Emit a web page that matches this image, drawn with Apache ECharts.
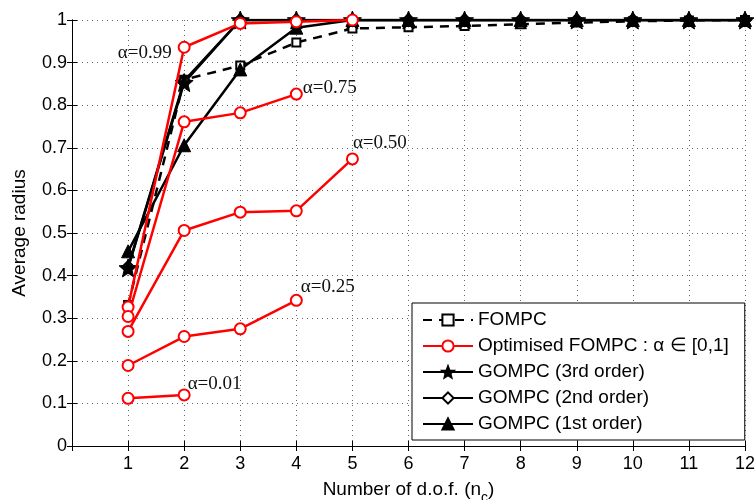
<!DOCTYPE html>
<html lang="en">
<head>
    <meta charset="UTF-8">
    <title>Average radius</title>
    <style>
        html, body { margin: 0; padding: 0; background: #fff; }
        #app { width: 756px; height: 500px; }
    </style>
</head>
<body>
    <div id="app"></div>
</body>
<script src="https://cdn.jsdelivr.net/npm/echarts@6/dist/echarts.min.js"></script>
<script>
    // number of d.o.f.
    var dof = [1, 2, 3, 4, 5, 6, 7, 8, 9, 10, 11, 12];
    var fompc = [0.331, 0.86, 0.893, 0.947, 0.98, 0.983, 0.986, 0.99, 0.994, 0.997, 0.999, 1];
    var gompc3 = [0.418, 0.853, 1, 1, 1, 1, 1, 1, 1, 1, 1, 1];
    var gompc2 = [0.42, 0.857, 1, 1, 1, 1, 1, 1, 1, 1, 1, 1];
    var gompc1 = [0.457, 0.706, 0.884, 0.982, 1, 1, 1, 1, 1, 1, 1, 1];
    // optimised FOMPC, one curve per alpha
    var alphas = ['α=0.99', 'α=0.75', 'α=0.50', 'α=0.25', 'α=0.01'];
    var a99 = [0.326, 0.936, 0.992, 0.996, 1];
    var a75 = [0.304, 0.761, 0.782, 0.826];
    var a50 = [0.269, 0.506, 0.549, 0.552, 0.674];
    var a25 = [0.189, 0.257, 0.275, 0.342];
    var a01 = [0.112, 0.12];
    var yTicks = [0, 0.1, 0.2, 0.3, 0.4, 0.5, 0.6, 0.7, 0.8, 0.9, 1];

    var chart = echarts.init(document.getElementById('app'));
    var star = 'path://M0,-10L2.6,-3.4L9.5,-3.1L4.2,1.3L5.9,8.1L0,4.3L-5.9,8.1L-4.2,1.3L-9.5,-3.1L-2.6,-3.4Z';
    var redName = 'Optimised FOMPC : α ∈ [0,1]';

    function pairs(vals) {
        return vals.map(function (v, i) { return [dof[i], v]; });
    }

    // label placement for each alpha curve: which point, side, offset
    var labelCfg = [
        { idx: 1, position: 'left', distance: 6, offset: [0, 6] },
        { idx: 3, position: 'right', distance: 0, offset: [0, -6] },
        { idx: 4, position: 'right', distance: -6, offset: [0, -16] },
        { idx: 3, position: 'right', distance: -2, offset: [0, -13] },
        { idx: 1, position: 'right', distance: -3, offset: [0, -11] }
    ];

    function redSeries(vals, k) {
        var d = pairs(vals).map(function (p, i) {
            var item = { value: p };
            if (i === labelCfg[k].idx) {
                item.label = {
                    show: true,
                    formatter: alphas[k],
                    position: labelCfg[k].position,
                    distance: labelCfg[k].distance,
                    offset: labelCfg[k].offset,
                    fontFamily: 'Liberation Serif',
                    fontSize: 19,
                    color: '#111'
                };
            }
            return item;
        });
        return {
            name: redName,
            type: 'line',
            data: d,
            z: 5,
            symbol: 'emptyCircle',
            symbolSize: 11,
            itemStyle: { color: '#ff0000', borderWidth: 2.5 },
            lineStyle: { color: '#ff0000', width: 2.5 },
            emphasis: { disabled: true },
            animation: false
        };
    }

    function blackSeries(name, vals, symbol, size, extra) {
        var s = {
            name: name,
            type: 'line',
            data: pairs(vals),
            z: 3,
            symbol: symbol,
            symbolSize: size,
            itemStyle: { color: '#000', borderColor: '#000', borderWidth: 3 },
            lineStyle: { color: '#000', width: 2.5 },
            emphasis: { disabled: true },
            animation: false
        };
        return Object.assign(s, extra || {});
    }

    var series = [
        blackSeries('FOMPC', fompc, 'emptyRect', 8, {
            lineStyle: { color: '#000', width: 2.5, type: [9, 7] }
        }),
        redSeries(a99, 0),
        redSeries(a75, 1),
        redSeries(a50, 2),
        redSeries(a25, 3),
        redSeries(a01, 4),
        blackSeries('GOMPC (1st order)', gompc1, 'triangle', 13, {
            itemStyle: { color: '#000', borderColor: '#000', borderWidth: 1 }
        }),
        blackSeries('GOMPC (2nd order)', gompc2, 'emptyDiamond', 12),
        blackSeries('GOMPC (3rd order)', gompc3, star, 18, {
            itemStyle: { color: '#000', borderColor: '#000', borderWidth: 1 }
        })
    ];

    var axisFont = { fontFamily: 'Liberation Sans', fontSize: 18, color: '#000' };

    var option = {
        backgroundColor: '#fff',
        animation: false,
        grid: { left: 72, right: 11, top: 20, bottom: 54, outerBoundsMode: 'none', containLabel: false },
        legend: {
            orient: 'vertical',
            left: 412,
            top: 303,
            padding: [7, 16, 6, 10],
            itemGap: 6,
            itemWidth: 50,
            itemHeight: 14,
            backgroundColor: '#fff',
            borderColor: '#000',
            borderWidth: 1,
            borderRadius: 0,
            selectedMode: false,
            textStyle: { fontFamily: 'Liberation Sans', fontSize: 19, lineHeight: 20, color: '#000' },
            data: ['FOMPC', redName, 'GOMPC (3rd order)', 'GOMPC (2nd order)', 'GOMPC (1st order)']
        },
        xAxis: [{
            type: 'value',
            min: 0,
            max: 12,
            interval: 1,
            name: '{a|Number of d.o.f. (n}{s|c}{a|)}',
            nameLocation: 'middle',
            nameGap: 29,
            nameTextStyle: {
                rich: {
                    a: { fontFamily: 'Liberation Sans', fontSize: 19, color: '#000' },
                    s: { fontFamily: 'Liberation Sans', fontSize: 14, color: '#000', padding: [16, 0, 0, 0] }
                }
            },
            axisLine: { lineStyle: { color: '#000', width: 1 } },
            axisTick: { inside: true, length: 5, lineStyle: { color: '#000' } },
            axisLabel: Object.assign({ margin: 9, formatter: function (v) { return v === 0 ? '' : v; } }, axisFont),
            splitLine: { show: true, lineStyle: { color: '#666', type: [1, 4], width: 1 } }
        }, {
            type: 'value',
            position: 'top',
            min: 0,
            max: 12,
            interval: 1,
            axisLine: { lineStyle: { color: '#000', width: 1 } },
            axisTick: { inside: true, length: 5, lineStyle: { color: '#000' } },
            axisLabel: { show: false },
            splitLine: { show: false }
        }],
        yAxis: [{
            type: 'value',
            min: 0,
            max: 1,
            interval: 0.1,
            name: 'Average radius',
            nameLocation: 'middle',
            nameGap: 43,
            nameTextStyle: { fontFamily: 'Liberation Sans', fontSize: 19, color: '#000' },
            axisLine: { show: true, lineStyle: { color: '#000', width: 1 } },
            axisTick: { show: true, inside: true, length: 5, lineStyle: { color: '#000' } },
            axisLabel: Object.assign({ margin: 5, formatter: function (v) {
                var t = yTicks.find(function (y) { return Math.abs(y - v) < 1e-6; });
                return t === undefined ? '' : String(t);
            } }, axisFont),
            splitLine: { show: true, lineStyle: { color: '#666', type: [1, 4], width: 1 } }
        }, {
            type: 'value',
            position: 'right',
            min: 0,
            max: 1,
            interval: 0.1,
            axisLine: { show: true, lineStyle: { color: '#000', width: 1 } },
            axisTick: { show: true, inside: true, length: 5, lineStyle: { color: '#000' } },
            axisLabel: { show: false },
            splitLine: { show: false }
        }],
        series: series
    };
    chart.setOption(option);
</script>
</html>
